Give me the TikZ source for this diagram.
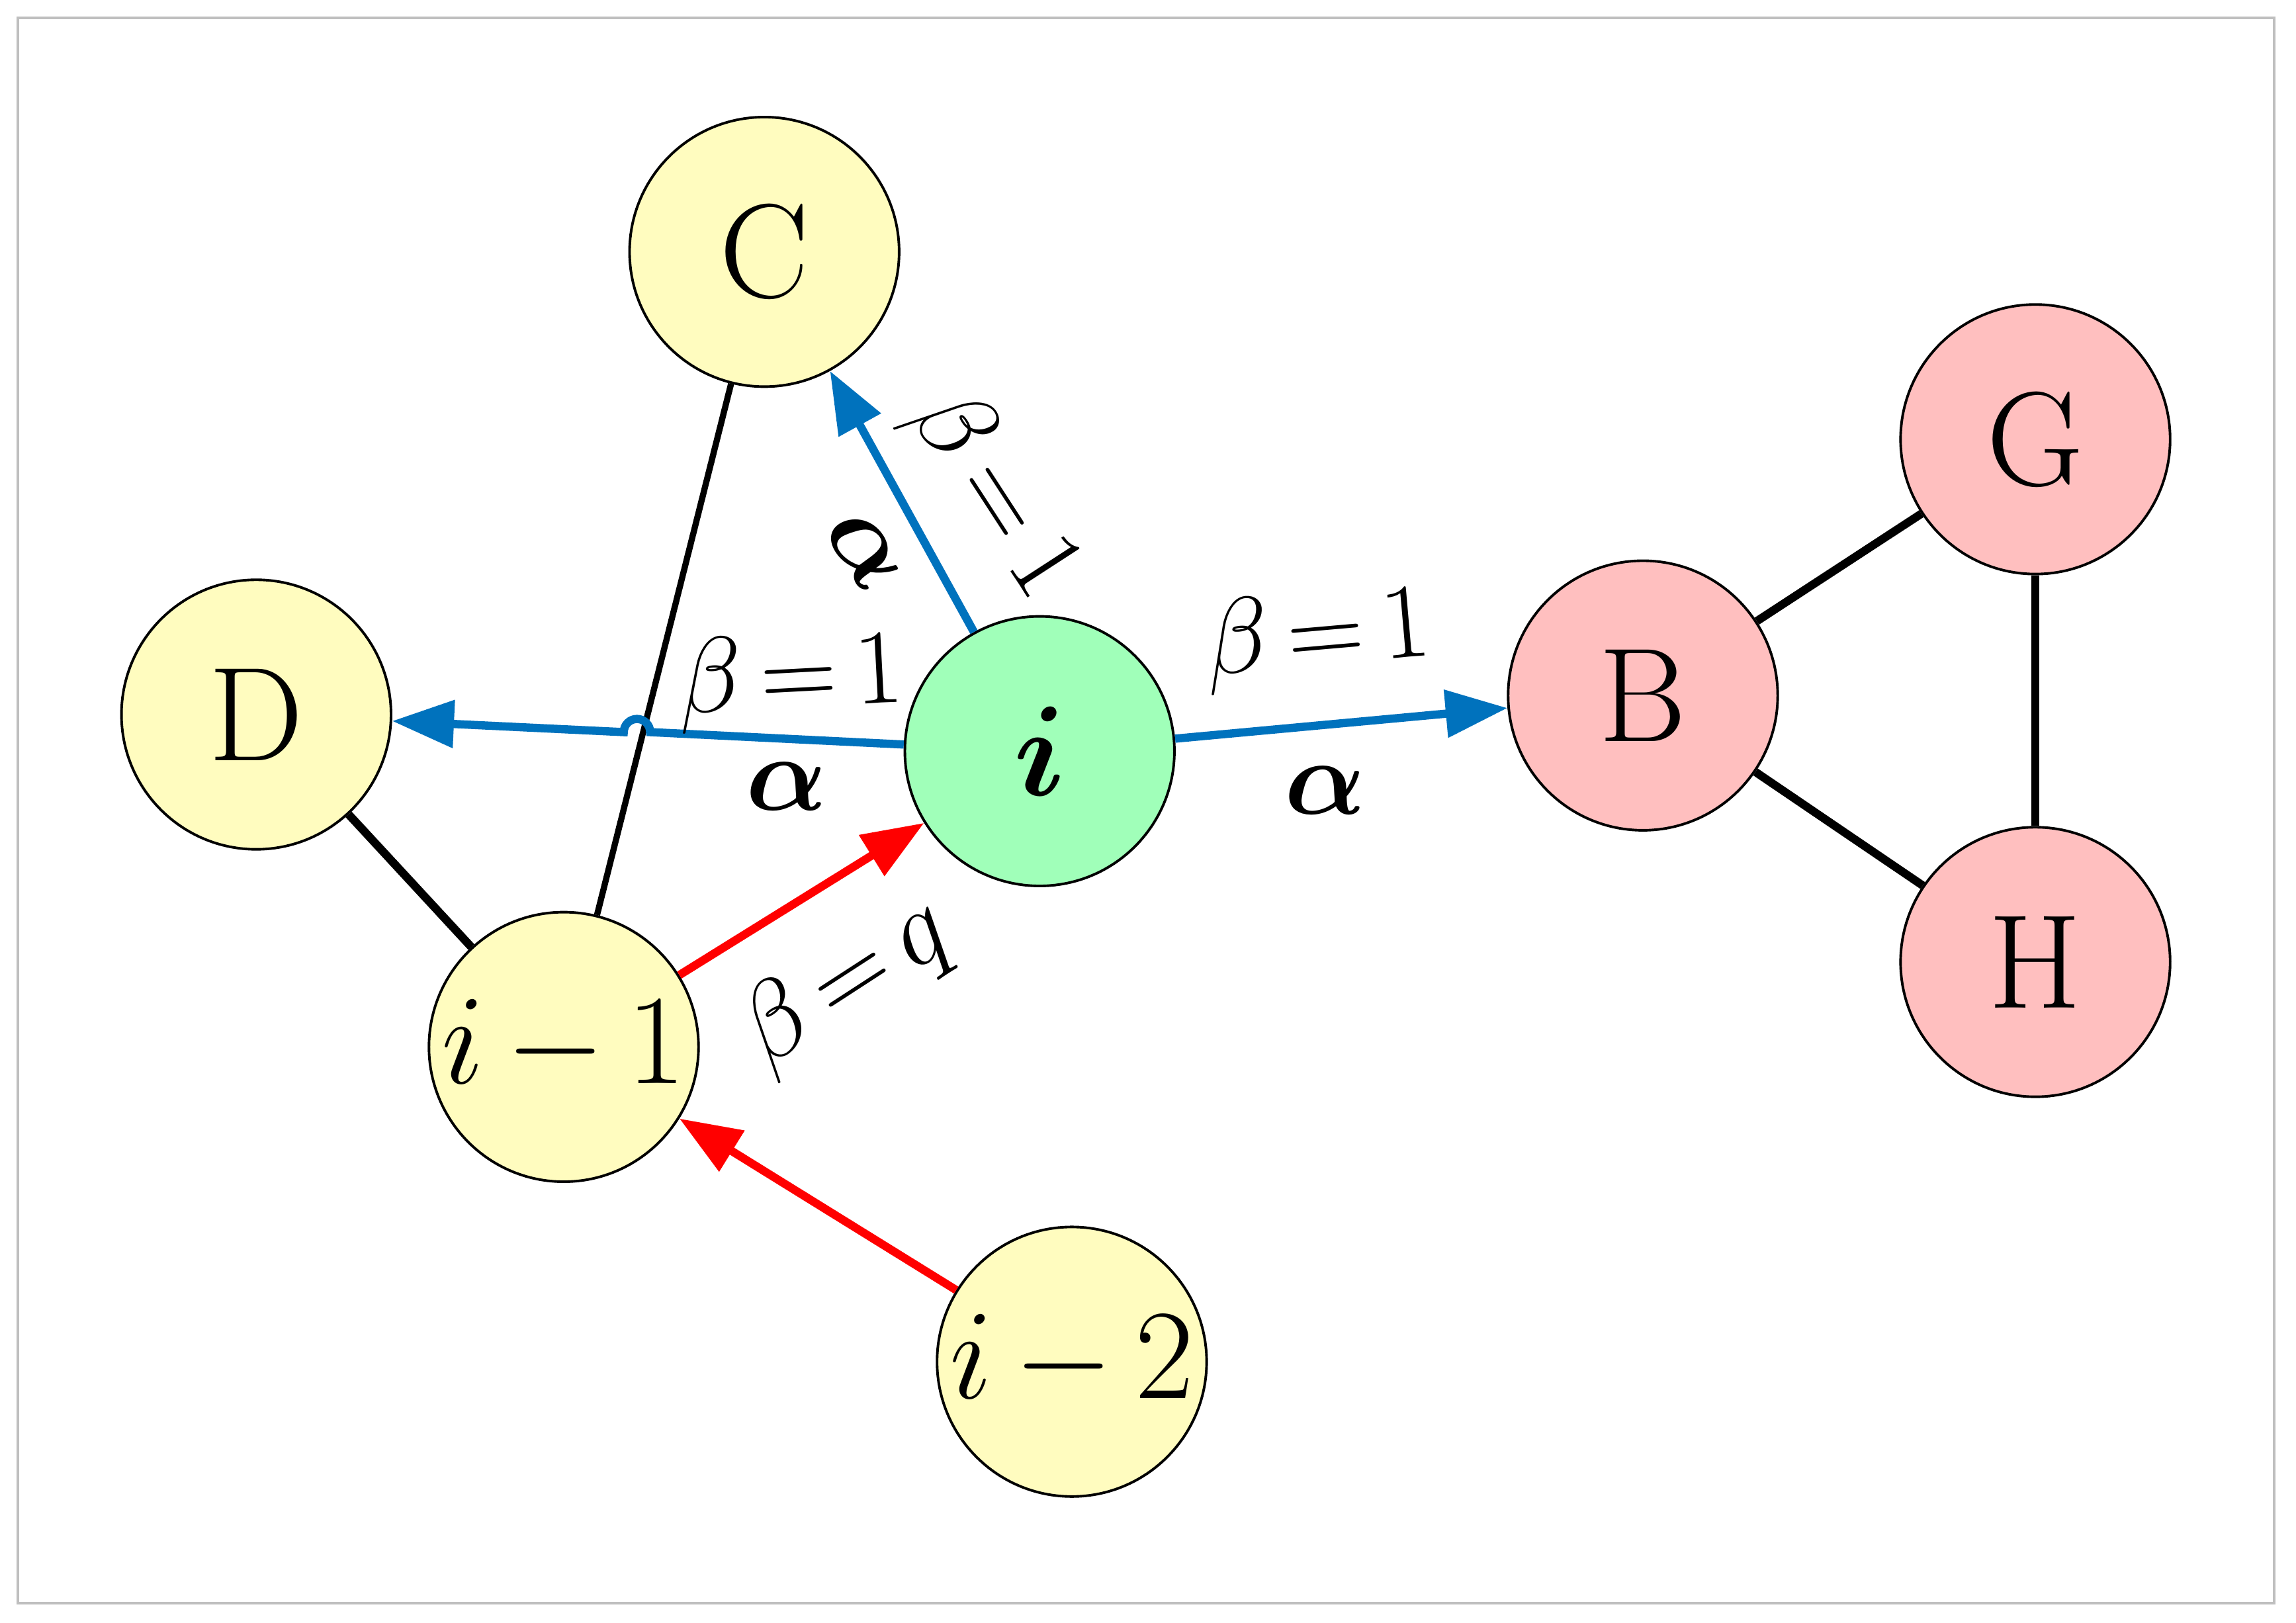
\documentclass[tikz,border=0pt]{standalone}
\usepackage{amsmath,bm}
\usetikzlibrary{arrows.meta}
\begin{document}
\begin{tikzpicture}[x=0.01cm,y=-0.01cm,
  nd/.style={circle,draw=black,line width=0.5pt,minimum size=1.84cm,inner sep=0pt,font=\fontsize{26}{30}\selectfont},
  yel/.style={nd,fill=yellow!25},
  red/.style={nd,fill=red!25},
  grn/.style={nd,fill={rgb,255:red,160;green,255;blue,185}},
  blu/.style={draw={rgb,255:red,0;green,114;blue,189},line width=1.6pt,-{Triangle[length=12pt,width=9pt]}},
  rd/.style={draw=red,line width=1.6pt,-{Triangle[length=12pt,width=9pt]}},
  bk/.style={draw=black,line width=1.6pt},
  lb/.style={font=\fontsize{22}{26}\selectfont}]
\useasboundingbox (0,0) rectangle (1568,1108);
\draw[gray!50,line width=0.5pt] (12,12) rectangle (1553,1095);
\node[yel] (C) at (522,172) {C};
\node[yel] (D) at (175,488) {D};
\node[grn] (i) at (710,513) {$\bm{i}$};
\node[red] (B) at (1122,475) {B};
\node[red] (G) at (1390,300) {G};
\node[red] (H) at (1390,657) {H};
\node[yel,font=\fontsize{23}{27}\selectfont] (i1) at (385,715) {$i{\,-\,}1$};
\node[yel,font=\fontsize{23}{27}\selectfont] (i2) at (732,930) {$i{\,-\,}2$};
\draw[black,line width=1.2pt] (C) -- (i1);
\draw[bk] (D) -- (i1);
\draw[bk] (B) -- (G);
\draw[bk] (B) -- (H);
\draw[bk] (G) -- (H);
\coordinate (j1) at (444,500);
\draw[blu] (i) -- (j1) arc[start angle=0,end angle=-180,radius=9] -- (D);
\draw[blu] (i) -- (C);
\draw[blu] (i) -- (B);
\draw[rd] (i1) -- (i);
\draw[rd] (i2) -- (i1);
\node[lb,rotate=-57] at (678,338) {$\beta{\,=\,}1$};
\node[lb,rotate=-57] at (590,376) {$\bm{\alpha}$};
\node[lb,rotate=3] at (540,465) {$\beta{\,=\,}1$};
\node[lb] at (537,537) {$\bm{\alpha}$};
\node[lb,rotate=5] at (900,436) {$\beta{\,=\,}1$};
\node[lb] at (905,540) {$\bm{\alpha}$};
\node[lb,rotate=33] at (578,672) {$\beta{\,=\,}q$};
\end{tikzpicture}
\end{document}
